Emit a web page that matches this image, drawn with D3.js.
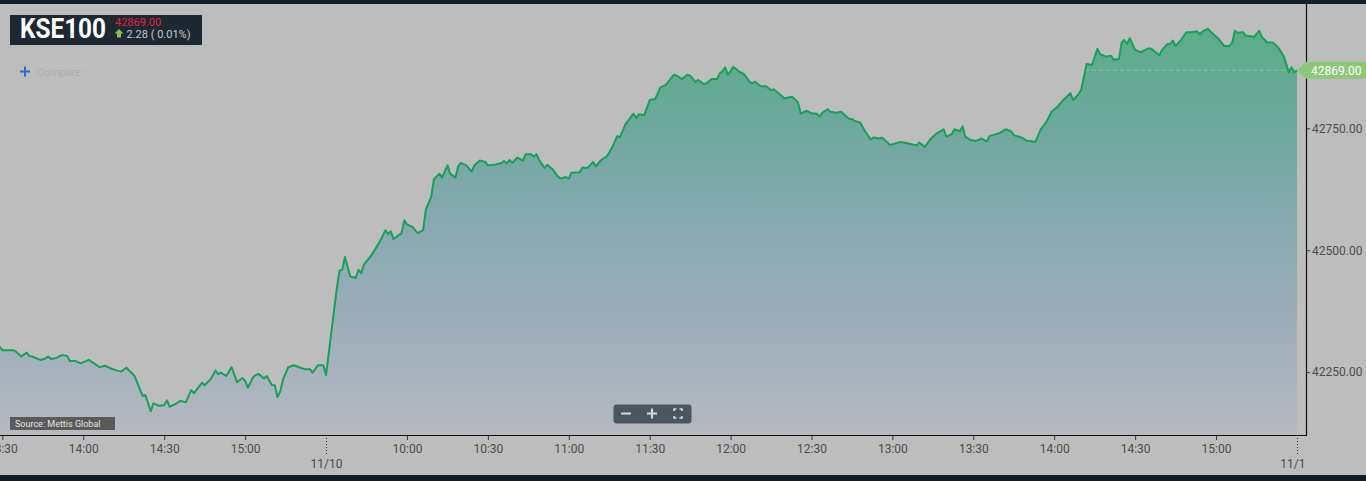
<!DOCTYPE html>
<html><head><meta charset="utf-8">
<script src="https://cdn.jsdelivr.net/npm/d3@7"></script>
<style>
body{margin:0;background:#bdbdbd;overflow:hidden;font-family:Roboto,"Noto Sans",sans-serif}
svg{display:block}
</style>
</head><body>
<svg id="c" width="1366" height="481"></svg>
<script>
// ---------------- data ----------------
const symbol = "KSE100";
const lastValue = 42869.00;
const changeValue = 2.28;
const changePct = 0.01;
const sourceText = "Source: Mettis Global";

const day1Times = ["13:29","13:30","13:34","13:35","13:37","13:39","13:40","13:41","13:44","13:46","13:47","13:48","13:50","13:52","13:54","13:55","13:57","13:59","14:02","14:04","14:06","14:08","14:10","14:12","14:14","14:16","14:19","14:22","14:23","14:25","14:26","14:28","14:30","14:31","14:32","14:34","14:36","14:38","14:40","14:41","14:44","14:45","14:47","14:49","14:50","14:51","14:53","14:55","14:57","14:59","15:00","15:01","15:03","15:04","15:05","15:07","15:08","15:10","15:11","15:12","15:13","15:14","15:16","15:18","15:20","15:22","15:24","15:25","15:27","15:29","15:30"];
const day1Values = [42302,42295,42295,42292,42282,42290,42283,42282,42275,42278,42282,42277,42279,42285,42283,42273,42273,42268,42275,42268,42260,42263,42258,42254,42251,42259,42242,42201,42203,42170,42186,42181,42182,42192,42179,42184,42191,42188,42213,42207,42228,42223,42234,42253,42246,42249,42242,42260,42229,42238,42232,42218,42240,42244,42246,42237,42242,42223,42223,42199,42210,42234,42260,42264,42260,42256,42256,42249,42264,42264,42244];

const day2Times = ["09:34","09:35","09:36","09:37","09:39","09:41","09:42","09:43","09:44","09:47","09:50","09:52","09:53","09:54","09:55","09:58","09:59","10:00","10:02","10:04","10:06","10:07","10:09","10:10","10:12","10:13","10:15","10:16","10:18","10:19","10:20","10:22","10:24","10:25","10:27","10:29","10:30","10:33","10:35","10:36","10:37","10:38","10:39","10:41","10:43","10:44","10:46","10:47","10:48","10:49","10:51","10:52","10:54","10:56","10:57","10:59","11:00","11:01","11:04","11:05","11:07","11:09","11:10","11:12","11:14","11:15","11:16","11:18","11:19","11:21","11:24","11:25","11:26","11:28","11:30","11:32","11:34","11:36","11:39","11:40","11:42","11:44","11:45","11:47","11:48","11:50","11:51","11:53","11:55","11:56","11:57","11:58","11:59","12:00","12:01","12:03","12:05","12:07","12:08","12:09","12:11","12:12","12:13","12:15","12:16","12:18","12:20","12:22","12:23","12:25","12:26","12:28","12:30","12:32","12:33","12:34","12:36","12:37","12:39","12:41","12:44","12:45","12:46","12:48","12:50","12:52","12:53","12:55","12:56","12:58","12:59","13:01","13:03","13:06","13:09","13:10","13:12","13:14","13:16","13:19","13:20","13:22","13:23","13:25","13:26","13:27","13:29","13:31","13:33","13:35","13:36","13:39","13:40","13:42","13:44","13:45","13:48","13:50","13:51","13:53","13:55","13:57","13:59","14:01","14:03","14:06","14:07","14:09","14:10","14:12","14:14","14:16","14:17","14:18","14:19","14:21","14:22","14:24","14:25","14:26","14:27","14:28","14:30","14:32","14:35","14:36","14:39","14:40","14:42","14:43","14:44","14:45","14:47","14:49","14:51","14:53","14:54","14:55","14:57","14:59","15:01","15:03","15:05","15:06","15:07","15:08","15:10","15:11","15:13","15:14","15:16","15:17","15:19","15:21","15:23","15:25","15:27","15:28","15:29","15:30"];
const day2Values = [42422,42458,42460,42486,42446,42443,42460,42453,42470,42491,42518,42541,42533,42539,42523,42535,42561,42553,42548,42535,42541,42583,42610,42645,42657,42649,42674,42657,42649,42672,42679,42674,42661,42674,42684,42681,42674,42676,42679,42683,42678,42685,42679,42690,42684,42697,42697,42692,42697,42685,42669,42675,42666,42651,42647,42650,42647,42659,42660,42669,42669,42681,42672,42685,42692,42700,42710,42734,42732,42758,42780,42771,42779,42777,42808,42810,42834,42839,42860,42858,42851,42860,42858,42845,42849,42841,42842,42851,42851,42863,42867,42875,42860,42867,42876,42867,42861,42846,42842,42846,42837,42836,42837,42828,42830,42821,42811,42814,42814,42803,42780,42786,42781,42780,42774,42782,42789,42784,42782,42784,42769,42769,42765,42762,42743,42727,42731,42729,42731,42722,42716,42719,42722,42719,42715,42721,42712,42727,42738,42748,42733,42738,42748,42744,42754,42733,42726,42724,42729,42723,42734,42739,42741,42748,42744,42736,42731,42724,42724,42722,42748,42762,42784,42793,42806,42822,42808,42820,42829,42882,42880,42913,42902,42900,42897,42899,42891,42892,42926,42931,42923,42935,42911,42906,42914,42913,42900,42911,42923,42923,42930,42919,42931,42947,42947,42949,42943,42949,42954,42943,42933,42919,42919,42926,42950,42946,42947,42940,42939,42937,42950,42937,42926,42926,42916,42899,42865,42875,42865,42869];

const day1TickTimes = ["13:30","14:00","14:30","15:00"];
const day2TickTimes = ["10:00","10:30","11:00","11:30","12:00","12:30","13:00","13:30","14:00","14:30","15:00"];
const dayBreakTimes = [["2","09:30"],["2","15:30"]];
const dayBreakLabels = ["11/10","11/1"];
const yTickValues = [42250, 42500, 42750];

// ---------------- helpers ----------------
const toMin = s => { const [h, m] = s.split(":").map(Number); return h * 60 + m; };
// continuous trading-minute index: day1 from 13:30, day2 from 09:30 (after 120 min of day1)
const sessionMinute = (day, t) => day === 1 ? toMin(t) - toMin("13:30") : 120 + toMin(t) - toMin("09:30");

const data = day1Times.map((t, i) => ({m: sessionMinute(1, t), v: day1Values[i]}))
  .concat(day2Times.map((t, i) => ({m: sessionMinute(2, t), v: day2Values[i]})));

const W = 1366, H = 481;
const plotTop = 4, plotBottom = 435, plotRight = 1306;
const x = d3.scaleLinear().domain([0, 483.5]).range([2.4, 1306.4]);
const y = d3.scaleLinear().domain([42121, 43005]).range([plotBottom, plotTop]);

const svg = d3.select("#c");
const defs = svg.append("defs");

// gradient
const grad = defs.append("linearGradient").attr("id", "areaGrad")
  .attr("gradientUnits", "userSpaceOnUse")
  .attr("x1", 0).attr("x2", 0).attr("y1", plotTop).attr("y2", plotBottom);
[[0, "#58ad87"], [0.25, "#6aa99a"], [0.5, "#86a9b0"], [0.75, "#9eaebb"], [1, "#b6b9bf"]]
  .forEach(([o, c]) => grad.append("stop").attr("offset", o).attr("stop-color", c));

defs.append("clipPath").attr("id", "plotClip").append("rect")
  .attr("x", 0).attr("y", plotTop).attr("width", plotRight).attr("height", plotBottom - plotTop);

// backgrounds
svg.append("rect").attr("width", W).attr("height", H).attr("fill", "#bdbdbd");
svg.append("rect").attr("width", W).attr("height", plotTop).attr("fill", "#161e26");
svg.append("rect").attr("y", 475).attr("width", W).attr("height", H - 475).attr("fill", "#131b23");

const plotG = svg.append("g").attr("clip-path", "url(#plotClip)");

// area + line
plotG.append("path").datum(data)
  .attr("d", d3.area().x(d => x(d.m)).y0(plotBottom).y1(d => y(d.v)))
  .attr("fill", "url(#areaGrad)");

// last value dashed line
const lastX = x(data[data.length - 1].m);
plotG.append("line")
  .attr("x1", 0).attr("x2", lastX)
  .attr("y1", y(lastValue)).attr("y2", y(lastValue))
  .attr("stroke", "#9fcc8f").attr("stroke-width", 1).attr("stroke-dasharray", "4,3").attr("opacity", 0.8);

plotG.append("path").datum(data)
  .attr("d", d3.line().x(d => x(d.m)).y(d => y(d.v)))
  .attr("fill", "none").attr("stroke", "#16a05c").attr("stroke-width", 2).attr("stroke-linejoin", "round");

// ---------------- axes ----------------
const tickFont = g => g.selectAll("text").attr("font-family", "Roboto, sans-serif").attr("font-size", 12).attr("fill", "#4c4c4c");

// right axis
const yAxis = svg.append("g").attr("transform", `translate(${plotRight},0)`)
  .call(d3.axisRight(y).tickValues(yTickValues).tickSize(4).tickPadding(2).tickFormat(d3.format(".2f")));
yAxis.select(".domain").remove();
yAxis.selectAll(".tick line").attr("stroke", "#333");
tickFont(yAxis);
svg.append("line").attr("x1", plotRight + 0.5).attr("x2", plotRight + 0.5).attr("y1", plotTop).attr("y2", plotBottom + 0.5)
  .attr("stroke", "#111").attr("stroke-width", 1.2);

// bottom axis
const xTickVals = day1TickTimes.map(t => sessionMinute(1, t)).concat(day2TickTimes.map(t => sessionMinute(2, t)));
const xTickLabels = day1TickTimes.concat(day2TickTimes);
const xAxis = svg.append("g").attr("transform", `translate(0,${plotBottom})`)
  .call(d3.axisBottom(x).tickValues(xTickVals).tickSize(5).tickPadding(4)
    .tickFormat((d, i) => xTickLabels[i]));
xAxis.select(".domain").remove();
xAxis.selectAll(".tick line").attr("stroke", "#333");
tickFont(xAxis);
svg.append("line").attr("x1", 0).attr("x2", plotRight + 1).attr("y1", plotBottom + 0.5).attr("y2", plotBottom + 0.5)
  .attr("stroke", "#111").attr("stroke-width", 1.2);

// day break ticks
dayBreakTimes.forEach(([d, t], i) => {
  const bx = Math.round(x(sessionMinute(+d, t))) + 0.5;
  svg.append("line").attr("x1", bx).attr("x2", bx).attr("y1", plotBottom).attr("y2", plotBottom + 20)
    .attr("stroke", "#333").attr("stroke-dasharray", "1,2");
  svg.append("text").attr("x", i === dayBreakTimes.length - 1 ? bx + 8 : bx).attr("y", plotBottom + 33)
    .attr("text-anchor", i === dayBreakTimes.length - 1 ? "end" : "middle")
    .attr("font-family", "Roboto, sans-serif").attr("font-size", 12).attr("fill", "#4c4c4c")
    .text(dayBreakLabels[i]);
});

// price tag on right
const ly = y(lastValue);
svg.append("path")
  .attr("d", `M${lastX},${ly} L${plotRight},${ly - 8.5} L${W},${ly - 8.5} L${W},${ly + 8.5} L${plotRight},${ly + 8.5} Z`)
  .attr("fill", "#8cc878");
svg.append("text").attr("x", plotRight + 5).attr("y", ly + 4.5)
  .attr("font-family", "Roboto, sans-serif").attr("font-size", 12).attr("fill", "#ffffff")
  .text(d3.format(".2f")(lastValue));

// ---------------- title box ----------------
svg.append("rect").attr("x", 10).attr("y", 15).attr("width", 192).attr("height", 30).attr("fill", "#1d2833");
svg.append("text").attr("x", 20).attr("y", 38)
  .attr("font-family", "Roboto, sans-serif").attr("font-weight", 700).attr("font-size", 28)
  .attr("fill", "#ffffff").attr("textLength", 86).attr("lengthAdjust", "spacingAndGlyphs")
  .text(symbol);
svg.append("text").attr("x", 115).attr("y", 25.5)
  .attr("font-family", "Roboto, sans-serif").attr("font-size", 11).attr("fill", "#e0223c")
  .text(d3.format(".2f")(lastValue));
svg.append("path").attr("d", "M119,29 L123.5,33.5 L121,33.5 L121,37.5 L117,37.5 L117,33.5 L114.5,33.5 Z").attr("fill", "#8bc34a");
svg.append("text").attr("x", 126.5).attr("y", 38)
  .attr("font-family", "Roboto, sans-serif").attr("font-size", 11).attr("fill", "#c8c8c8")
  .text(`${changeValue.toFixed(2)} ( ${changePct.toFixed(2)}%)`);

// compare
svg.append("path").attr("d", "M20,71.5 H30 M25,66.5 V76.5").attr("stroke", "#2a6ad0").attr("stroke-width", 2);
svg.append("text").attr("x", 36.5).attr("y", 75.5)
  .attr("font-family", "Roboto, sans-serif").attr("font-size", 11).attr("fill", "#adadad")
  .text("Compare");

// source box
svg.append("rect").attr("x", 10).attr("y", 417).attr("width", 105).attr("height", 13).attr("fill", "#5a5a5a");
svg.append("text").attr("x", 15).attr("y", 427)
  .attr("font-family", "Roboto, sans-serif").attr("font-size", 9).attr("fill", "#e6e6e6")
  .text(sourceText);

// zoom controls
svg.append("rect").attr("x", 613.5).attr("y", 404.5).attr("width", 78).attr("height", 19).attr("rx", 3)
  .attr("fill", "#4a5560");
svg.append("path").attr("d", "M621,413.5 H631 M647,413.5 H657 M652,408.5 V418.5")
  .attr("stroke", "#d3d7db").attr("stroke-width", 2.2);
svg.append("path").attr("d", "M674,411 V409 H676.5 M679.5,409 H682 V411 M682,416 V418 H679.5 M676.5,418 H674 V416")
  .attr("stroke", "#d3d7db").attr("stroke-width", 1.6).attr("fill", "none");
</script>
</body></html>
